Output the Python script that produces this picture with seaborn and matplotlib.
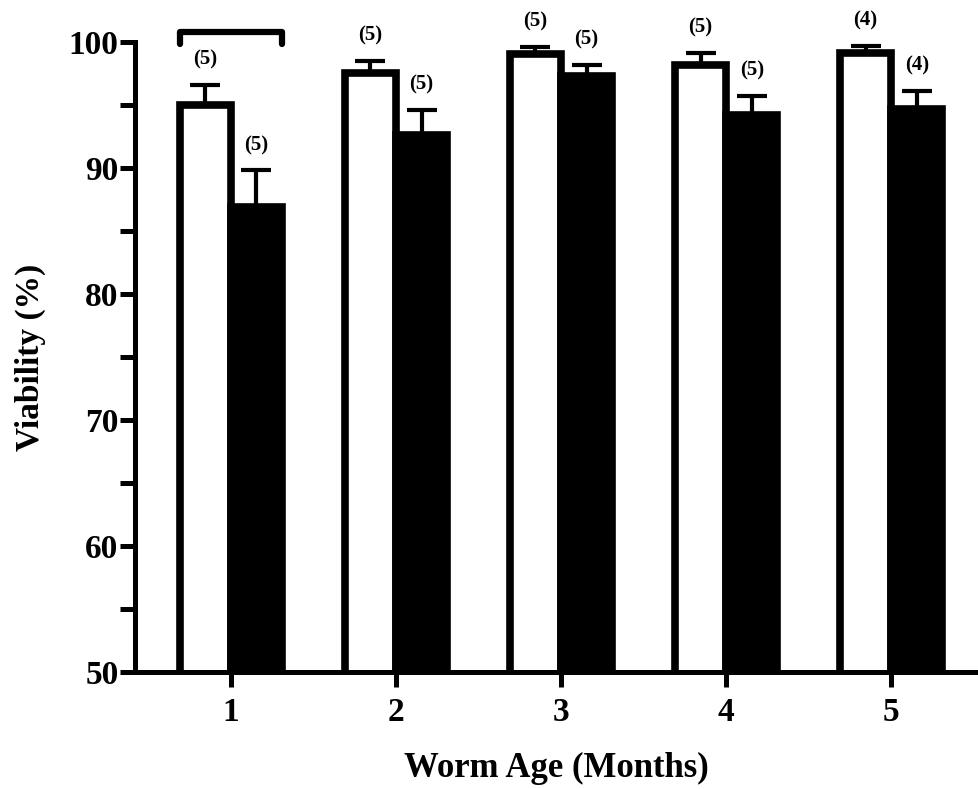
import matplotlib.pyplot as plt
import pandas as pd
import seaborn as sns
from matplotlib.ticker import MultipleLocator

# Значения
ages = ["1", "2", "3", "4", "5"]
groups = ["open", "filled"]
open_mean = [95.0, 97.5, 99.0, 98.2, 99.1]
open_sem = [1.6, 1.0, 0.6, 0.9, 0.6]
open_n = [5, 5, 5, 5, 4]
filled_mean = [86.9, 92.6, 97.3, 94.2, 94.7]
filled_sem = [2.9, 2.0, 0.9, 1.5, 1.4]
filled_n = [5, 5, 5, 5, 4]
bracket_top = 100.8
bracket_tip = 99.8


def build_frame():
    """Собираем длинную таблицу для seaborn"""
    rows = []
    for grp, means, sems, ns in [("open", open_mean, open_sem, open_n),
                                 ("filled", filled_mean, filled_sem, filled_n)]:
        for age, m, s, n in zip(ages, means, sems, ns):
            rows.append({"age": age, "group": grp, "viability": m, "sem": s, "n": n})
    return pd.DataFrame(rows)


def plot_viability(df):
    sns.set_style("ticks", {"axes.edgecolor": "black", "text.color": "black",
                            "axes.labelcolor": "black", "xtick.color": "black",
                            "ytick.color": "black"})
    plt.rcParams["font.family"] = ["Liberation Serif", "DejaVu Serif"]
    plt.rcParams["font.weight"] = "bold"

    fig = plt.figure(figsize=(9.79, 7.89), dpi=100)
    ax = fig.add_axes([0.138, 0.148, 0.860, 0.799])

    sns.barplot(
        data=df, x="age", y="viability", hue="group", hue_order=groups,
        palette=["white", "black"], saturation=1, edgecolor="black",
        linewidth=5.5, width=0.62, errorbar=None, legend=False, ax=ax,
    )
    bar_containers = list(ax.containers)

    # Ошибки только вверх + подписи n
    for container, grp in zip(bar_containers, groups):
        sub = df[df["group"] == grp].reset_index(drop=True)
        xs = [b.get_x() + b.get_width() / 2 for b in container]
        ax.errorbar(xs, sub["viability"], yerr=[[0] * len(xs), sub["sem"]],
                    fmt="none", ecolor="black", elinewidth=3, capsize=11,
                    capthick=3, zorder=1)
        for x, m, s, n in zip(xs, sub["viability"], sub["sem"], sub["n"]):
            ax.text(x, m + s + 2.0, f"({n})", ha="center", va="center",
                    fontsize=15, fontweight="bold", color="black", clip_on=False)

    # Скобка над первой группой
    left_bar = bar_containers[0][0]
    right_bar = bar_containers[-1][0]
    x0 = left_bar.get_x()
    x1 = right_bar.get_x() + right_bar.get_width()
    ax.plot([x0, x0, x1, x1], [bracket_tip, bracket_top, bracket_top, bracket_tip],
            color="black", lw=4.5, clip_on=False, solid_capstyle="round")

    ax.set_ylim(50, 100)
    ax.set_xlim(-0.58, 4.52)
    ax.yaxis.set_major_locator(MultipleLocator(10))
    ax.yaxis.set_minor_locator(MultipleLocator(5))

    sns.despine(ax=ax)
    for side in ["left", "bottom"]:
        ax.spines[side].set_linewidth(3.6)
        ax.spines[side].set_color("black")
    ax.tick_params(axis="both", which="both", width=3.6, length=11, labelsize=24,
                   color="black", labelcolor="black")
    ax.tick_params(axis="y", pad=1)
    ax.tick_params(axis="x", pad=7)

    ax.set_ylabel("Viability (%)", fontsize=24, fontweight="bold", labelpad=16)
    ax.set_xlabel("Worm Age (Months)", fontsize=25, fontweight="bold", labelpad=17)

    fig.savefig("out.png", dpi=100)
    plt.close(fig)


if __name__ == "__main__":
    plot_viability(build_frame())
